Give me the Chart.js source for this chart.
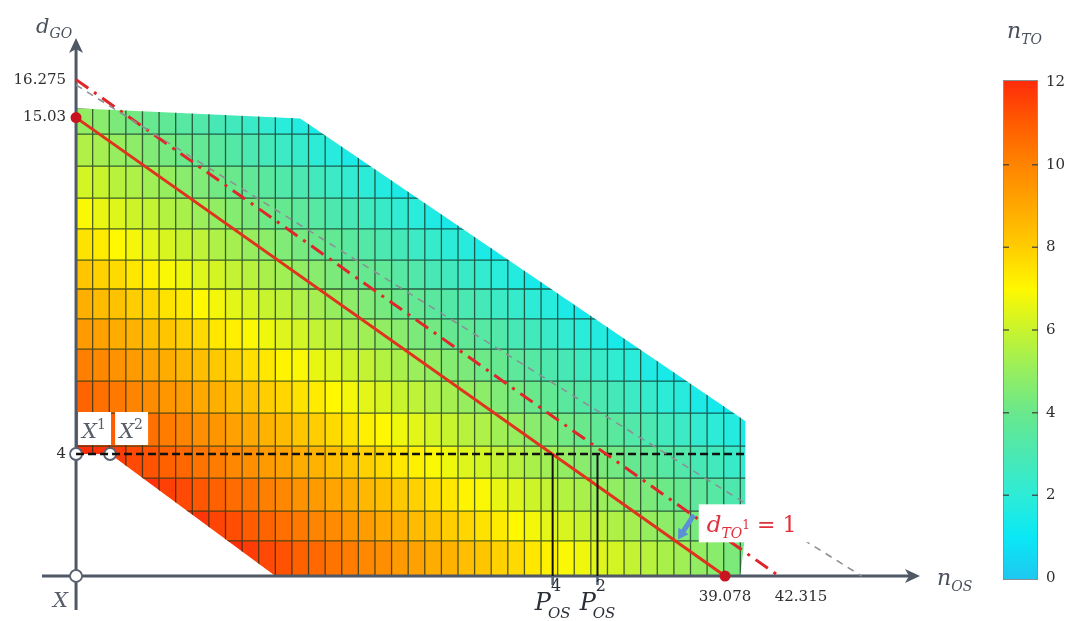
<!DOCTYPE html>
<html>
<head>
<meta charset="utf-8">
<script src="https://cdn.jsdelivr.net/npm/chart.js@4.4.3/dist/chart.umd.min.js"></script>
<style>
html, body { margin: 0; padding: 0; background: #fff; }
#wrap { position: relative; width: 1071px; height: 621px; }
</style>
</head>
<body>
<div id="wrap"><canvas id="chart"></canvas></div>
<script>
// mesh rows (d_GO edges) and n_TO value of every cell, row by row from the bottom, one cell per unit of n_OS
const ROW_EDGES = [0, 1.15, 2.13, 3.21, 4.26, 5.34, 6.39, 7.44, 8.43, 9.41, 10.36, 11.38, 12.39, 13.44, 14.49, 15.34];
const N_TO = [
  [12,12,12,12,12,12,12,12,12,12,11.7,11.4,11.2,10.9,10.7,10.4,10.2,9.9,9.7,9.4,9.2,8.9,8.7,8.4,8.2,7.9,7.7,7.4,7.2,6.9,6.7,6.4,6.2,5.9,5.7,5.4,5.2,4.9,4.7,4.4,4.2],
  [12,12,12,12,12,12,12,11.8,11.5,11.3,11,10.8,10.5,10.3,10,9.8,9.5,9.3,9,8.8,8.5,8.3,8,7.8,7.5,7.3,7,6.8,6.5,6.3,6,5.8,5.5,5.3,5,4.8,4.5,4.3,4,3.8,3.5],
  [12,12,12,12,11.9,11.6,11.4,11.1,10.9,10.6,10.4,10.1,9.9,9.6,9.4,9.1,8.9,8.6,8.4,8.1,7.9,7.6,7.4,7.1,6.9,6.6,6.4,6.1,5.9,5.6,5.4,5.1,4.9,4.6,4.4,4.1,3.9,3.6,3.4,3.1,2.9],
  [12,11.9,11.7,11.4,11.2,10.9,10.7,10.4,10.2,9.9,9.7,9.4,9.2,8.9,8.7,8.4,8.2,7.9,7.7,7.4,7.2,6.9,6.7,6.4,6.2,5.9,5.7,5.4,5.2,4.9,4.7,4.4,4.2,3.9,3.7,3.4,3.2,2.9,2.7,2.4,2.2],
  [11.5,11.2,11,10.7,10.5,10.2,10,9.7,9.5,9.2,9,8.7,8.5,8.2,8,7.7,7.5,7.2,7,6.7,6.5,6.2,6,5.7,5.5,5.2,5,4.7,4.5,4.2,4,3.7,3.5,3.2,3,2.7,2.5,2.2,2,1.7,1.5],
  [10.8,10.5,10.3,10,9.8,9.5,9.3,9,8.8,8.5,8.3,8,7.8,7.5,7.3,7,6.8,6.5,6.3,6,5.8,5.5,5.3,5,4.8,4.5,4.3,4,3.8,3.5,3.3,3,2.8,2.5,2.3,2,1.8,1.5,1.3,1],
  [10.1,9.9,9.6,9.4,9.1,8.9,8.6,8.4,8.1,7.9,7.6,7.4,7.1,6.9,6.6,6.4,6.1,5.9,5.6,5.4,5.1,4.9,4.6,4.4,4.1,3.9,3.6,3.4,3.1,2.9,2.6,2.4,2.1,1.9,1.6,1.4,1.1],
  [9.4,9.2,8.9,8.7,8.4,8.2,7.9,7.7,7.4,7.2,6.9,6.7,6.4,6.2,5.9,5.7,5.4,5.2,4.9,4.7,4.4,4.2,3.9,3.7,3.4,3.2,2.9,2.7,2.4,2.2,1.9,1.7,1.4,1.2],
  [8.8,8.5,8.3,8,7.8,7.5,7.3,7,6.8,6.5,6.3,6,5.8,5.5,5.3,5,4.8,4.5,4.3,4,3.8,3.5,3.3,3,2.8,2.5,2.3,2,1.8,1.5,1.3,1],
  [8.2,7.9,7.7,7.4,7.2,6.9,6.7,6.4,6.2,5.9,5.7,5.4,5.2,4.9,4.7,4.4,4.2,3.9,3.7,3.4,3.2,2.9,2.7,2.4,2.2,1.9,1.7,1.4,1.2],
  [7.5,7.3,7,6.8,6.5,6.3,6,5.8,5.5,5.3,5,4.8,4.5,4.3,4,3.8,3.5,3.3,3,2.8,2.5,2.3,2,1.8,1.5,1.3,1],
  [6.9,6.6,6.4,6.1,5.9,5.6,5.4,5.1,4.9,4.6,4.4,4.1,3.9,3.6,3.4,3.1,2.9,2.6,2.4,2.1,1.9,1.6,1.4,1.1],
  [6.2,6,5.7,5.5,5.2,5,4.7,4.5,4.2,4,3.7,3.5,3.2,3,2.7,2.5,2.2,2,1.7,1.5,1.2],
  [5.5,5.3,5,4.8,4.5,4.3,4,3.8,3.5,3.3,3,2.8,2.5,2.3,2,1.8,1.5,1.3],
  [4.9,4.7,4.4,4.2,3.9,3.7,3.4,3.2,2.9,2.7,2.4,2.2,1.9,1.7,1.4]
];
// outline of the feasible region (n_OS, d_GO)
const MESH_OUTLINE = [[0, 4], [0, 15.34], [13.5, 15.0], [40.3, 5.08], [40.3, 1.4], [40.0, 0], [12.0, 0], [2.05, 4]];

const RED_LINE = [[0, 15.03], [39.078, 0]];
const DASHDOT_LINE = [[0, 16.275], [42.315, 0]];
const GRAY_LINE = [[0, 16.1], [47.3, 0]];
const LEVEL_LINE = [[0, 4], [40.3, 4]];
const P_OS_X = [28.7, 31.4];
const P_OS_SUP = ['4', '2'];
const X_POINTS = [[0, 0], [0, 4], [2.05, 4]];
const Y_TICKS = [4, 15.03, 16.275];
const X_TICKS = [39.078, 42.315];
const CB_TICKS = [0, 2, 4, 6, 8, 10, 12];

const CMAP = [
  [0, [30, 200, 240]], [1, [10, 232, 245]], [2, [45, 236, 215]], [3, [75, 232, 178]],
  [4, [105, 232, 140]], [5, [150, 238, 95]], [6, [200, 244, 45]], [7, [255, 248, 0]],
  [8, [255, 205, 0]], [9, [255, 168, 0]], [10, [255, 132, 0]], [11, [255, 92, 0]], [12, [255, 45, 10]]
];

const SERIF = '"DejaVu Serif", "Liberation Serif", serif';
const AXIS_COLOR = '#4f5866';
const LABEL_COLOR = '#4a525e';

function colorFor(v) {
  v = Math.max(0, Math.min(12, v));
  for (let k = 1; k < CMAP.length; k++) {
    if (v <= CMAP[k][0]) {
      const [v0, c0] = CMAP[k - 1], [v1, c1] = CMAP[k];
      const t = (v - v0) / (v1 - v0);
      const c = c0.map((a, n) => Math.round(a + (c1[n] - a) * t));
      return `rgb(${c[0]},${c[1]},${c[2]})`;
    }
  }
  return 'rgb(255,45,10)';
}

function pts(arr) {
  return arr.map(([x, y]) => ({ x, y }));
}

function font(size, italic) {
  return `${italic ? 'italic ' : ''}${size}px ${SERIF}`;
}

// parts: [text, size, italic, dy]
function mathText(ctx, x, y, parts, color, align) {
  ctx.save();
  ctx.fillStyle = color;
  ctx.textBaseline = 'alphabetic';
  ctx.textAlign = 'left';
  let w = 0;
  parts.forEach(p => { ctx.font = font(p[1], p[2]); w += ctx.measureText(p[0]).width; });
  let cx = align === 'center' ? x - w / 2 : align === 'right' ? x - w : x;
  parts.forEach(p => {
    ctx.font = font(p[1], p[2]);
    ctx.fillText(p[0], cx, y + (p[3] || 0));
    cx += ctx.measureText(p[0]).width;
  });
  ctx.restore();
}

function arrowHead(ctx, tx, ty, dir) {
  ctx.beginPath();
  if (dir === 'up') {
    ctx.moveTo(tx, ty);
    ctx.lineTo(tx + 7, ty + 15);
    ctx.lineTo(tx, ty + 11);
    ctx.lineTo(tx - 7, ty + 15);
  } else {
    ctx.moveTo(tx, ty);
    ctx.lineTo(tx - 15, ty - 7);
    ctx.lineTo(tx - 11, ty);
    ctx.lineTo(tx - 15, ty + 7);
  }
  ctx.closePath();
  ctx.fill();
}

const meshPlugin = {
  id: 'mesh',
  beforeDatasetsDraw(chart) {
    const { ctx, scales: { x, y } } = chart;
    ctx.save();
    ctx.beginPath();
    MESH_OUTLINE.forEach(([a, b], k) => {
      const px = x.getPixelForValue(a), py = y.getPixelForValue(b);
      if (k) ctx.lineTo(px, py); else ctx.moveTo(px, py);
    });
    ctx.closePath();
    ctx.clip();
    N_TO.forEach((row, j) => {
      const y0 = y.getPixelForValue(ROW_EDGES[j]);
      const y1 = y.getPixelForValue(ROW_EDGES[j + 1]);
      row.forEach((v, i) => {
        const x0 = x.getPixelForValue(i), x1 = x.getPixelForValue(i + 1);
        ctx.fillStyle = colorFor(v);
        ctx.fillRect(x0, y1, x1 - x0 + 0.7, y0 - y1 + 0.7);
      });
    });
    ctx.strokeStyle = 'rgba(25,45,30,0.75)';
    ctx.lineWidth = 1.3;
    ctx.beginPath();
    ROW_EDGES.slice(1).forEach(e => {
      ctx.moveTo(x.getPixelForValue(0), y.getPixelForValue(e));
      ctx.lineTo(x.getPixelForValue(41), y.getPixelForValue(e));
    });
    for (let i = 1; i <= 40; i++) {
      ctx.moveTo(x.getPixelForValue(i), y.getPixelForValue(0));
      ctx.lineTo(x.getPixelForValue(i), y.getPixelForValue(16));
    }
    ctx.stroke();
    ctx.restore();

    // axes with arrows, crossing at the origin
    const ox = x.getPixelForValue(0), oy = y.getPixelForValue(0);
    const area = chart.chartArea;
    ctx.save();
    ctx.strokeStyle = AXIS_COLOR;
    ctx.fillStyle = AXIS_COLOR;
    ctx.lineWidth = 3;
    ctx.beginPath();
    ctx.moveTo(ox, area.bottom);
    ctx.lineTo(ox, area.top + 8);
    ctx.moveTo(area.left, oy);
    ctx.lineTo(area.right - 8, oy);
    ctx.stroke();
    arrowHead(ctx, ox, area.top, 'up');
    arrowHead(ctx, area.right + 2, oy, 'right');
    // small ticks under the axis at the P_OS points
    ctx.strokeStyle = '#56657a';
    ctx.lineWidth = 2.5;
    ctx.beginPath();
    P_OS_X.forEach(v => {
      const px = x.getPixelForValue(v);
      ctx.moveTo(px, oy);
      ctx.lineTo(px, oy + 9);
    });
    ctx.stroke();
    ctx.restore();
  }
};

const labelPlugin = {
  id: 'labels',
  afterDraw(chart) {
    const { ctx, scales: { x, y } } = chart;
    const ox = x.getPixelForValue(0), oy = y.getPixelForValue(0);

    // axis titles
    mathText(ctx, 36, 33, [['d', 21, true], ['GO', 14, true, 5]], LABEL_COLOR, 'left');
    mathText(ctx, 937, 585, [['n', 22, true], ['OS', 14, true, 6]], LABEL_COLOR, 'left');

    // y tick labels
    ctx.save();
    ctx.fillStyle = '#2e2e2e';
    ctx.font = font(15, false);
    ctx.textAlign = 'right';
    ctx.textBaseline = 'middle';
    Y_TICKS.forEach(v => ctx.fillText(String(v), ox - 10, y.getPixelForValue(v)));
    // x tick labels
    ctx.textBaseline = 'top';
    ctx.textAlign = 'center';
    ctx.fillText(String(X_TICKS[0]), x.getPixelForValue(X_TICKS[0]), oy + 14);
    ctx.textAlign = 'left';
    ctx.fillText(String(X_TICKS[1]), x.getPixelForValue(X_TICKS[1]) - 4, oy + 14);
    ctx.restore();

    // X, X^1, X^2
    mathText(ctx, ox - 8, oy + 31, [['X', 21, true]], '#555d68', 'right');
    const boxes = [[X_POINTS[1], 2, '1'], [X_POINTS[2], 5, '2']];
    boxes.forEach(([p, dx, sup]) => {
      const bx = x.getPixelForValue(p[0]) + dx, by = y.getPixelForValue(p[1]) - 42;
      ctx.fillStyle = '#ffffff';
      ctx.fillRect(bx, by, 33, 33);
      mathText(ctx, bx + 16, by + 26, [['X', 21, true], [sup, 14, false, -9]], '#555d68', 'center');
    });

    // P_OS labels: P with superscript index and subscript OS stacked
    P_OS_X.forEach((v, k) => {
      const px = x.getPixelForValue(v);
      ctx.save();
      ctx.font = font(24, true);
      const wP = ctx.measureText('P').width;
      ctx.font = font(15, true);
      const wS = ctx.measureText('OS').width;
      const left = px - (wP + wS - 3) / 2;
      ctx.fillStyle = '#2a2e36';
      ctx.font = font(24, true);
      ctx.fillText('P', left, oy + 34);
      ctx.font = font(16, false);
      ctx.fillText(P_OS_SUP[k], left + wP, oy + 15);
      ctx.font = font(15, true);
      ctx.fillText('OS', left + wP - 3, oy + 42);
      ctx.restore();
    });

    // annotation d_TO^1 = 1 with a pointer to the red line
    const bx = x.getPixelForValue(37.5), by = y.getPixelForValue(2.35);
    ctx.fillStyle = '#ffffff';
    ctx.fillRect(bx, by, 122, 38);
    mathText(ctx, bx + 8, by + 28, [['d', 23, true], ['TO', 14, true, 6], ['1', 12, false, -3], [' = 1', 22, false]], '#e0303c', 'left');
    const ax0 = x.getPixelForValue(37.2), ay0 = y.getPixelForValue(2.0);
    const ax1 = x.getPixelForValue(36.25), ay1 = y.getPixelForValue(1.2);
    const ang = Math.atan2(ay1 - ay0, ax1 - ax0);
    ctx.save();
    ctx.strokeStyle = '#5b8fd6';
    ctx.fillStyle = '#5b8fd6';
    ctx.lineWidth = 5;
    ctx.beginPath();
    ctx.moveTo(ax0, ay0);
    ctx.lineTo(ax1 - 8 * Math.cos(ang), ay1 - 8 * Math.sin(ang));
    ctx.stroke();
    ctx.beginPath();
    ctx.moveTo(ax1, ay1);
    ctx.lineTo(ax1 - 10 * Math.cos(ang) + 6 * Math.sin(ang), ay1 - 10 * Math.sin(ang) - 6 * Math.cos(ang));
    ctx.lineTo(ax1 - 10 * Math.cos(ang) - 6 * Math.sin(ang), ay1 - 10 * Math.sin(ang) + 6 * Math.cos(ang));
    ctx.closePath();
    ctx.fill();
    ctx.restore();

    // colour bar
    const cbL = 1003, cbR = 1038, cbTop = 80, cbBot = 580;
    const cy = v => cbTop + 2 + (12 - v) * (cbBot - cbTop - 4) / 12;
    const grad = ctx.createLinearGradient(0, cy(12), 0, cy(0));
    CMAP.forEach(([v, c]) => grad.addColorStop((12 - v) / 12, `rgb(${c[0]},${c[1]},${c[2]})`));
    ctx.fillStyle = grad;
    ctx.fillRect(cbL, cbTop, cbR - cbL, cbBot - cbTop);
    ctx.strokeStyle = '#8a8f96';
    ctx.lineWidth = 1;
    ctx.strokeRect(cbL + 0.5, cbTop + 0.5, cbR - cbL - 1, cbBot - cbTop - 1);
    ctx.strokeStyle = 'rgba(60,60,60,0.8)';
    ctx.lineWidth = 1.5;
    ctx.beginPath();
    CB_TICKS.filter(v => v > 0 && v < 12).forEach(v => {
      ctx.moveTo(cbL, cy(v)); ctx.lineTo(cbL + 6, cy(v));
      ctx.moveTo(cbR - 6, cy(v)); ctx.lineTo(cbR, cy(v));
    });
    ctx.stroke();
    ctx.fillStyle = '#2e2e2e';
    ctx.font = font(15, false);
    ctx.textAlign = 'left';
    ctx.textBaseline = 'middle';
    CB_TICKS.forEach(v => ctx.fillText(String(v), cbR + 8, cy(v)));
    mathText(ctx, 1007, 38, [['n', 22, true], ['TO', 14, true, 6]], LABEL_COLOR, 'left');
  }
};

new Chart(document.getElementById('chart'), {
  type: 'scatter',
  data: {
    datasets: [
      { data: pts(GRAY_LINE), showLine: true, borderColor: '#8c9096', borderWidth: 1.6, borderDash: [7, 6], pointRadius: 0 },
      { data: pts(DASHDOT_LINE), showLine: true, borderColor: '#e0262a', borderWidth: 3, borderDash: [15, 7, 3, 7], pointRadius: 0 },
      { data: pts(LEVEL_LINE), showLine: true, borderColor: '#111111', borderWidth: 2.5, borderDash: [8, 4], pointRadius: 0 },
      { data: [{ x: P_OS_X[0], y: 0 }, { x: P_OS_X[0], y: 4 }], showLine: true, borderColor: '#111111', borderWidth: 2, pointRadius: 0 },
      { data: [{ x: P_OS_X[1], y: 0 }, { x: P_OS_X[1], y: 4 }], showLine: true, borderColor: '#111111', borderWidth: 2, pointRadius: 0 },
      { data: pts(RED_LINE), showLine: true, borderColor: '#e0321e', borderWidth: 3, pointRadius: 5.5, pointBackgroundColor: '#c8141e', pointBorderWidth: 0 },
      { data: pts(X_POINTS), showLine: false, pointRadius: 6, pointBackgroundColor: '#ffffff', pointBorderColor: '#5a6270', pointBorderWidth: 1.8 }
    ]
  },
  options: {
    animation: false,
    responsive: true,
    maintainAspectRatio: false,
    layout: { padding: { left: 42, right: 153, top: 38, bottom: 11 } },
    plugins: { legend: { display: false }, tooltip: { enabled: false } },
    scales: {
      x: { type: 'linear', min: -2.05, max: 50.7, display: false },
      y: { type: 'linear', min: -1.115, max: 17.64, display: false }
    }
  },
  plugins: [meshPlugin, labelPlugin]
});
</script>
</body>
</html>
